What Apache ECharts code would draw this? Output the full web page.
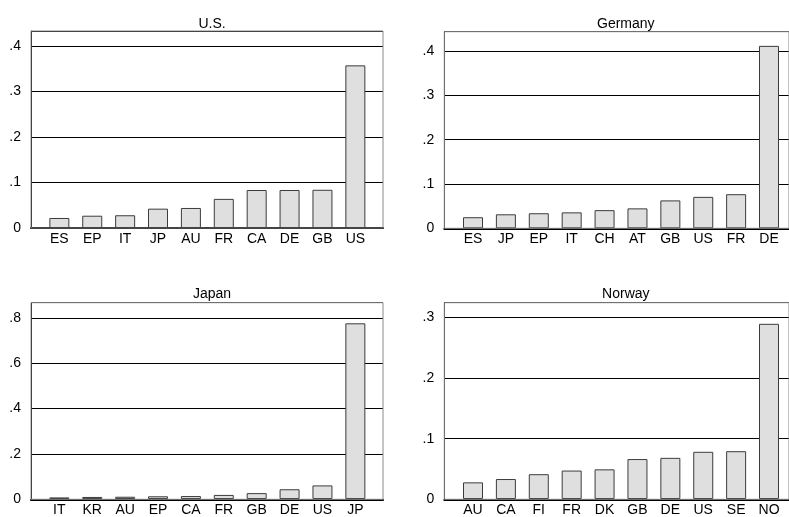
<!DOCTYPE html>
<html>
<head>
<meta charset="utf-8">
<script src="https://cdn.jsdelivr.net/npm/echarts@6/dist/echarts.min.js"></script>
<style>html,body{margin:0;padding:0;background:#fff}#c{width:789px;height:517px}</style>
</head>
<body>
<div id="c"></div>
<script>
var titles = ['U.S.', 'Germany', 'Japan', 'Norway'];
var usCats = ['ES','EP','IT','JP','AU','FR','CA','DE','GB','US'];
var usVals = [0.022,0.027,0.028,0.0425,0.044,0.064,0.0835,0.0835,0.084,0.3575];
var deCats = ['ES','JP','EP','IT','CH','AT','GB','US','FR','DE'];
var deVals = [0.025,0.0316,0.034,0.036,0.041,0.045,0.063,0.071,0.077,0.412];
var jpCats = ['IT','KR','AU','EP','CA','FR','GB','DE','US','JP'];
var jpVals = [0.007,0.009,0.010,0.012,0.013,0.018,0.026,0.043,0.060,0.776];
var noCats = ['AU','CA','FI','FR','DK','GB','DE','US','SE','NO'];
var noVals = [0.0275,0.033,0.041,0.047,0.049,0.066,0.068,0.078,0.079,0.2895];
var yMax = [0.433, 0.444, 0.867, 0.3244];
var yStep = [0.1, 0.1, 0.2, 0.1];

var cats = [usCats, deCats, jpCats, noCats];
var vals = [usVals, deVals, jpVals, noVals];

// layout (px)
var frames = [
  {left:31, top:31, width:352, height:197, barLeft:42.9},
  {left:444.3, top:31.7, width:353, height:196.6, barLeft:456.56},
  {left:31, top:302.7, width:352, height:196.6, barLeft:42.9},
  {left:444.3, top:302.7, width:353, height:196.6, barLeft:456.56}
];
var barGridWidth = 328.9;
var FONT = 'Liberation Sans, Arial, sans-serif';

function fmt(v){
  var r = +(+v).toFixed(3);
  if (r === 0) return '0';
  return String(r).replace(/^0\./, '.');
}

var grid = [], xAxis = [], yAxis = [], series = [], title = [];
frames.forEach(function(f, i){
  var gFrame = grid.length;
  grid.push({left:f.left, top:f.top, width:f.width, height:f.height, containLabel:false,
             show:false});
  var gBorder = grid.length;
  grid.push({left:f.left, top:f.top, width:f.width, height:f.height, z:5,
             show:true, borderColor:'#8a8a8a', borderWidth:1, backgroundColor:'transparent'});
  var gBar = grid.length;
  grid.push({left:f.barLeft, top:f.top, width:barGridWidth, height:f.height, show:false});

  xAxis.push({gridIndex:gFrame, type:'value', min:0, max:1, show:true,
    axisLine:{show:true, lineStyle:{color:'#000', width:2}},
    axisTick:{show:false}, axisLabel:{show:false}, splitLine:{show:false}, z:4});
  yAxis.push({gridIndex:gFrame, type:'value', min:0, max:yMax[i], interval:yStep[i],
    axisLine:{show:true, lineStyle:{color:'#000', width:1}},
    axisTick:{show:false},
    axisLabel:{show:true, showMaxLabel:false, margin:10, color:'#000', fontSize:14, fontFamily:FONT,
      formatter:function(v){
        var k = v / yStep[i];
        if (Math.abs(k - Math.round(k)) > 1e-6) return '';
        return fmt(v);
      }},
    splitLine:{show:true, lineStyle:{color:'#000', width:1}}});

  xAxis.push({gridIndex:gBorder, type:'value', show:false});
  yAxis.push({gridIndex:gBorder, type:'value', show:false});

  var xi = xAxis.length, yi = yAxis.length;
  xAxis.push({gridIndex:gBar, type:'category', data:cats[i], boundaryGap:true,
    axisLine:{show:false}, axisTick:{show:false},
    axisLabel:{show:true, interval:0, margin:4, color:'#000', fontSize:14, fontFamily:FONT},
    splitLine:{show:false}});
  yAxis.push({gridIndex:gBar, type:'value', min:0, max:yMax[i], show:false, splitLine:{show:false}});

  series.push({type:'bar', xAxisIndex:xi, yAxisIndex:yi, data:vals[i], barWidth:20, z:3,
    itemStyle:{color:'#dfdfdf', borderColor:'#3c3c3c', borderWidth:1}, silent:true, animation:false});

  title.push({text:titles[i], left:f.left + f.width/2, top:(i<2 ? 12 : 282), textAlign:'center',
    textStyle:{fontSize:14, fontWeight:'normal', color:'#000', fontFamily:FONT}});
});

var chart = echarts.init(document.getElementById('c'), null, {renderer:'canvas'});
chart.setOption({animation:false, backgroundColor:'#fff', title:title, grid:grid, xAxis:xAxis, yAxis:yAxis, series:series});
</script>
</body>
</html>
